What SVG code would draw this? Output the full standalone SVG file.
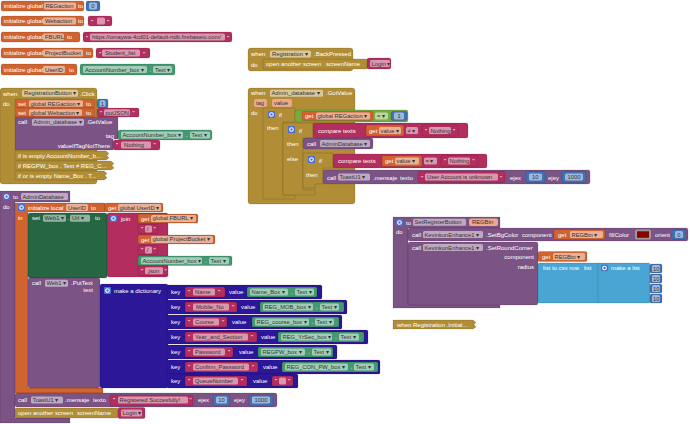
<svg xmlns="http://www.w3.org/2000/svg" width="690" height="424" viewBox="0 0 690 424">
<style>
text{font-family:"Liberation Sans",Arial,sans-serif;font-size:6px}
.l{fill:#fff}
.v{fill:#333;font-size:5.8px}
.e{text-anchor:end}
.f{fill:#fff;fill-opacity:.5}
.pf{fill:#EDA88A}
.var{fill:#D0632F}
.txt{fill:#B32D5E}
.num{fill:#3F71B5}
.cmp{fill:#439970}
.set{fill:#266643}
.prc{fill:#7C5385}
.ctl{fill:#B18E35}
.lgc{fill:#77AB41}
.dct{fill:#2D1799}
.lst{fill:#49A6D4}
.b{stroke:#000;stroke-opacity:.22;stroke-width:.6}
</style>
<defs>
<symbol id="gear" viewBox="0 0 7 7"><rect width="7" height="7" rx="1" fill="#4A6FD4"/><circle cx="3.5" cy="3.5" r="1.8" fill="none" stroke="#fff" stroke-width="1.1"/></symbol>
</defs>
<rect width="690" height="424" fill="#fff"/>

<!-- global initializers -->
<g id="init-REGaction">
<rect class="var b" x="1" y="1" width="83" height="10" rx="2"/>
<text class="l" x="4" y="8.2">initialize global</text>
<rect class="f" x="44" y="2.5" width="32" height="7" rx="1.5"/><text class="v" x="45.5" y="8">REGaction</text>
<text class="l" x="78" y="8.2">to</text>
<rect class="num b" x="86" y="1" width="14" height="10" rx="2"/>
<rect class="f" x="89" y="2.5" width="8" height="7" rx="1.5"/><text class="v" x="91.3" y="8">0</text>
</g>
<g id="init-Webaction">
<rect class="var b" x="1" y="16" width="83" height="10" rx="2"/>
<text class="l" x="4" y="23.2">initialize global</text>
<rect class="f" x="43" y="17.5" width="33" height="7" rx="1.5"/><text class="v" x="45" y="23">Webaction</text>
<text class="l" x="78" y="23.2">to</text>
<rect class="txt b" x="88" y="16" width="24" height="10" rx="2"/>
<text class="l" x="91" y="23.5">"</text>
<rect class="f" x="97" y="17.5" width="8" height="7" rx="1.5"/>
<text class="l" x="107" y="23.5">"</text>
</g>
<g id="init-FBURL">
<rect class="var b" x="1" y="32" width="79" height="10" rx="2"/>
<text class="l" x="4" y="39.2">initialize global</text>
<rect class="f" x="43" y="33.5" width="21" height="7" rx="1.5"/><text class="v" x="45" y="39">FBURL</text>
<text class="l" x="67" y="39.2">to</text>
<rect class="txt b" x="83" y="32" width="149" height="10" rx="2"/>
<text class="l" x="86" y="39.5">"</text>
<rect class="f" x="90" y="33.5" width="135" height="7" rx="1.5"/>
<text class="v" x="92" y="39">https://omaywa-4cd01-default-rtdb.firebaseio.com/</text>
<text class="l" x="227" y="39.5">"</text>
</g>
<g id="init-ProjectBucket">
<rect class="var b" x="1" y="48" width="92" height="10" rx="2"/>
<text class="l" x="4" y="55.2">initialize global</text>
<rect class="f" x="43" y="49.5" width="40" height="7" rx="1.5"/><text class="v" x="45" y="55">ProjectBucket</text>
<text class="l" x="86" y="55.2">to</text>
<rect class="txt b" x="96" y="48" width="54" height="10" rx="2"/>
<text class="l" x="99" y="55.5">"</text>
<rect class="f" x="102" y="49.5" width="38" height="7" rx="1.5"/><text class="v" x="105" y="55">Student_list</text>
<text class="l" x="143" y="55.5">"</text>
</g>
<g id="init-UserID">
<rect class="var b" x="1" y="64" width="76" height="11" rx="2"/>
<text class="l" x="4" y="71.5">initialize global</text>
<rect class="f" x="43" y="66" width="22" height="7" rx="1.5"/><text class="v" x="45" y="71.5">UserID</text>
<text class="l" x="69" y="71.5">to</text>
<rect class="cmp b" x="80" y="64" width="95" height="11" rx="2"/>
<rect class="f" x="83" y="66" width="64" height="7" rx="1.5"/><text class="v" x="85" y="71.5">AccountNumber_box ▾</text>
<text class="l" x="149.5" y="71.5">.</text>
<rect class="f" x="153" y="66" width="19" height="7" rx="1.5"/><text class="v" x="155" y="71.5">Text ▾</text>
</g>

<!-- BackPressed -->
<g id="ev-BackPressed">
<rect class="ctl b" x="248" y="48" width="105" height="23" rx="3"/>
<text class="l" x="251" y="56.3">when</text>
<rect class="f" x="270" y="50.5" width="41" height="7" rx="1.5"/><text class="v" x="272" y="56">Registration ▾</text>
<text class="l" x="314" y="56.3">.BackPressed</text>
<text class="l" x="251" y="66.5">do</text>
<rect class="ctl b" x="263" y="59" width="105" height="10" rx="2"/>
<text class="l" x="266" y="66.2">open another screen</text>
<text class="l" x="326" y="66.2">screenName</text>
<rect class="txt b" x="367" y="58" width="24" height="11" rx="2"/>
<rect class="f" x="370" y="60" width="20" height="7" rx="1.5"/><text class="v" x="371.5" y="65.5">Login ▾</text>
</g>

<!-- RegistrationButton.Click -->
<g id="ev-RegistrationButton-Click">
<rect class="ctl b" x="0" y="88" width="97" height="96" rx="3"/>
<text class="l" x="3" y="95.5">when</text>
<rect class="f" x="22" y="89.7" width="56" height="7" rx="1.5"/><text class="v" x="24" y="95.3">RegistrationButton ▾</text>
<text class="l" x="80" y="95.5">.Click</text>
<text class="l" x="3" y="105.5">do</text>
<rect class="var b" x="15" y="99" width="80" height="9" rx="1.5"/>
<text class="l" x="18" y="105.5">set</text>
<rect class="f" x="29" y="100.2" width="54" height="6.6" rx="1.5"/><text class="v" x="30.5" y="105.5">global REGaction ▾</text>
<text class="l" x="86" y="105.5">to</text>
<rect class="num b" x="97" y="99" width="11" height="9" rx="1.5"/>
<rect class="f" x="99.5" y="100.2" width="6" height="6.6" rx="1.5"/><text class="v" x="100.8" y="105.5">1</text>
<rect class="var b" x="15" y="108" width="80" height="9" rx="1.5"/>
<text class="l" x="18" y="114.5">set</text>
<rect class="f" x="29" y="109.2" width="53" height="6.6" rx="1.5"/><text class="v" x="30.5" y="114.5">global Webaction ▾</text>
<text class="l" x="86" y="114.5">to</text>
<rect class="txt b" x="97" y="108" width="42" height="9" rx="1.5"/>
<text class="l" x="100" y="114.8">"</text>
<rect class="f" x="104" y="109.2" width="26" height="6.6" rx="1.5"/><text class="v" x="105.5" y="114.5">putJSON</text>
<text class="l" x="132.5" y="114.8">"</text>
<path class="prc b" d="M15,117H118V139H113V150H15Z"/>
<text class="l" x="18" y="124.3">call</text>
<rect class="f" x="32" y="118.7" width="52" height="7" rx="1.5"/><text class="v" x="33.5" y="124.2">Admin_database ▾</text>
<text class="l" x="86" y="124.3">.GetValue</text>
<text class="l e" x="114" y="137.5">tag</text>
<text class="l e" x="110" y="147.5">valueIfTagNotThere</text>
<rect class="cmp b" x="118" y="130" width="94" height="10" rx="2"/>
<rect class="f" x="121" y="131.5" width="62" height="7" rx="1.5"/><text class="v" x="122.5" y="137">AccountNumber_box ▾</text>
<text class="l" x="186" y="137.3">.</text>
<rect class="f" x="190" y="131.5" width="20" height="7" rx="1.5"/><text class="v" x="191.5" y="137">Text ▾</text>
<rect class="txt b" x="113" y="140" width="47" height="10" rx="2"/>
<text class="l" x="116" y="147.3">"</text>
<rect class="f" x="121" y="141.5" width="30" height="7" rx="1.5"/><text class="v" x="124" y="147">Nothing</text>
<text class="l" x="153.5" y="147.3">"</text>
<path class="ctl b" d="M15,151H106l3,2.5l-2,2l2,2.5l-3,2H15Z"/>
<text class="l" x="18" y="157.8">if is empty AccountNumber_b...</text>
<path class="ctl b" d="M15,161H111l3,2.5l-2,2l2,2.5l-3,2H15Z"/>
<text class="l" x="18" y="167.8">if REGPW_box . Text ≠ REG_C...</text>
<path class="ctl b" d="M15,171H104l3,2.5l-2,2l2,2.5l-3,2H15Z"/>
<text class="l" x="18" y="177.8">if or is empty Name_Box . T...</text>
</g>

<!-- Admin_database.GotValue -->
<g id="ev-Admin_database-GotValue">
<rect class="ctl b" x="248" y="88" width="107" height="116" rx="3"/>
<text class="l" x="251" y="95.3">when</text>
<rect class="f" x="270" y="89.7" width="53" height="7" rx="1.5"/><text class="v" x="271.5" y="95.2">Admin_database ▾</text>
<text class="l" x="326" y="95.3">.GotValue</text>
<rect class="pf" x="254" y="99" width="13" height="8" rx="2"/><text class="v" x="256" y="105">tag</text>
<rect class="pf" x="272" y="99" width="20" height="8" rx="2"/><text class="v" x="274" y="105">value</text>
<text class="l" x="251" y="115">do</text>
<path class="ctl b" d="M263,108H295V122H283V195H295V199H263Z"/>
<use href="#gear" x="268" y="111" width="7" height="7"/>
<text class="l" x="279" y="117">if</text>
<text class="l" x="267" y="130">then</text>
<path class="ctl b" d="M283,123H313V138H303V190H315V195H283Z"/>
<use href="#gear" x="288" y="126" width="7" height="7"/>
<text class="l" x="299" y="132.5">if</text>
<text class="l" x="287" y="145.5">then</text>
<text class="l" x="287" y="161">else</text>
<rect class="prc b" x="303" y="138" width="70" height="11" rx="2"/>
<text class="l" x="307" y="145.5">call</text>
<rect class="f" x="320" y="140" width="50" height="7" rx="1.5"/><text class="v" x="321.5" y="145.5">AdminDatabase ▾</text>
<path class="ctl b" d="M303,153H333V168H323V184H315V188H303Z"/>
<use href="#gear" x="308" y="156" width="7" height="7"/>
<text class="l" x="319" y="162.5">if</text>
<text class="l" x="306" y="177">then</text>
<rect class="lgc b" x="295" y="110" width="113" height="12" rx="2"/>
<rect class="var b" x="302" y="111.5" width="71" height="9" rx="1.5"/>
<text class="l" x="305" y="118">get</text>
<rect class="f" x="316" y="112.5" width="54" height="7" rx="1.5"/><text class="v" x="317.5" y="118">global REGaction ▾</text>
<rect class="f" x="375" y="112.5" width="13" height="7" rx="1.5"/><text class="v" x="377" y="118">= ▾</text>
<rect class="num b" x="391" y="111.5" width="16" height="9" rx="1.5"/>
<rect class="f" x="394" y="112.5" width="10" height="7" rx="1.5"/><text class="v" x="397.5" y="118">1</text>
<rect class="txt b" x="313" y="123" width="155" height="15" rx="2"/>
<text class="l" x="318" y="132.5">compare texts</text>
<rect class="var b" x="366" y="125" width="38" height="11" rx="1.5"/>
<text class="l" x="369" y="132.5">get</text>
<rect class="f" x="379" y="127" width="22" height="7" rx="1.5"/><text class="v" x="380.5" y="132.5">value ▾</text>
<rect class="f" x="406" y="127" width="12" height="7" rx="1.5"/><text class="v" x="407.5" y="132.5">≠ ▾</text>
<rect class="txt b" x="422" y="125" width="36" height="11" rx="1.5"/>
<text class="l" x="425" y="132.8">"</text>
<rect class="f" x="429" y="127" width="22" height="7" rx="1.5"/><text class="v" x="430.5" y="132.5">Nothing</text>
<text class="l" x="453" y="132.8">"</text>
<rect class="txt b" x="333" y="154" width="154" height="14" rx="2"/>
<text class="l" x="338" y="163">compare texts</text>
<rect class="var b" x="382" y="155.5" width="40" height="11" rx="1.5"/>
<text class="l" x="385" y="163">get</text>
<rect class="f" x="395" y="157.5" width="24" height="7" rx="1.5"/><text class="v" x="396.5" y="163">value ▾</text>
<rect class="f" x="424" y="157.5" width="13" height="7" rx="1.5"/><text class="v" x="425.5" y="163">= ▾</text>
<rect class="txt b" x="441" y="155.5" width="37" height="11" rx="1.5"/>
<text class="l" x="444" y="163.3">"</text>
<rect class="f" x="448" y="157.5" width="22" height="7" rx="1.5"/><text class="v" x="449.5" y="163">Nothing</text>
<text class="l" x="472.5" y="163.3">"</text>
<rect class="prc b" x="323" y="170" width="267" height="14" rx="2"/>
<text class="l" x="327" y="179.5">call</text>
<rect class="f" x="338" y="173.5" width="32" height="7" rx="1.5"/><text class="v" x="339.5" y="179">ToastU1 ▾</text>
<text class="l" x="373" y="179.5">.mensaje</text>
<text class="l" x="400" y="179.5">texto</text>
<rect class="txt b" x="418" y="171.5" width="87" height="11" rx="1.5"/>
<text class="l" x="421" y="179.5">"</text>
<rect class="f" x="425" y="173.5" width="73" height="7" rx="1.5"/><text class="v" x="427" y="179">User Account is unknown</text>
<text class="l" x="500" y="179.5">"</text>
<text class="l" x="510" y="179.5">ejex</text>
<rect class="num b" x="526" y="171.5" width="19" height="11" rx="1.5"/>
<rect class="f" x="529" y="173.5" width="13" height="7" rx="1.5"/><text class="v" x="532" y="179">10</text>
<text class="l" x="548" y="179.5">ejey</text>
<rect class="num b" x="562" y="171.5" width="24" height="11" rx="1.5"/>
<rect class="f" x="565" y="173.5" width="18" height="7" rx="1.5"/><text class="v" x="567.5" y="179">1000</text>
</g>

<!-- procedure AdminDatabase -->
<g id="proc-AdminDatabase">
<path class="prc b" d="M0,191H70V202H15V418H70V423H0Z"/>
<use href="#gear" x="3" y="193" width="7" height="7"/>
<text class="l" x="13" y="198.7">to</text>
<rect class="f" x="21" y="193" width="47" height="7" rx="1.5"/><text class="v" x="22.5" y="198.5">AdminDatabase</text>
<text class="l" x="3" y="209">do</text>
<path class="var b" d="M15,203H105V212H28V388H103V393H15Z"/>
<use href="#gear" x="18" y="204" width="7" height="7"/>
<text class="l" x="28" y="209.7">initialize local</text>
<rect class="f" x="66" y="204" width="22" height="7" rx="1.5"/><text class="v" x="68" y="209.5">UserID</text>
<text class="l" x="91" y="209.7">to</text>
<text class="l" x="18" y="219.5">in</text>
<rect class="var b" x="105" y="203" width="58" height="9" rx="1.5"/>
<text class="l" x="108" y="209.7">get</text>
<rect class="f" x="118" y="204" width="43" height="7" rx="1.5"/><text class="v" x="119.5" y="209.5">global UserID ▾</text>
<rect class="set b" x="28" y="213" width="79" height="65" rx="2"/>
<text class="l" x="32" y="220.3">set</text>
<rect class="f" x="43" y="214.7" width="23" height="7" rx="1.5"/><text class="v" x="44.5" y="220.2">Web1 ▾</text>
<text class="l" x="67.5" y="220.3">.</text>
<rect class="f" x="70" y="214.7" width="20" height="7" rx="1.5"/><text class="v" x="72" y="220.2">Url ▾</text>
<text class="l" x="95" y="220.3">to</text>
<rect class="txt b" x="107" y="213" width="61" height="64" rx="2"/>
<use href="#gear" x="110" y="215" width="7" height="7"/>
<text class="l" x="121" y="220.7">join</text>
<rect class="var b" x="138" y="214" width="60" height="9" rx="1.5"/>
<text class="l" x="141" y="220.5">get</text>
<rect class="f" x="151" y="215" width="45" height="7" rx="1.5"/><text class="v" x="152.5" y="220.4">global FBURL ▾</text>
<rect class="txt b" x="138" y="224.5" width="20" height="9" rx="1.5"/>
<text class="l" x="141" y="231.2">"</text>
<rect class="f" x="145" y="225.5" width="7" height="7" rx="1.5"/><text class="v" x="146.8" y="230.8">/</text>
<text class="l" x="153.5" y="231.2">"</text>
<rect class="var b" x="138" y="235" width="77" height="9" rx="1.5"/>
<text class="l" x="141" y="241.5">get</text>
<rect class="f" x="151" y="236" width="62" height="7" rx="1.5"/><text class="v" x="152.5" y="241.4">global ProjectBucket ▾</text>
<rect class="txt b" x="138" y="245.5" width="20" height="9" rx="1.5"/>
<text class="l" x="141" y="252.2">"</text>
<rect class="f" x="145" y="246.5" width="7" height="7" rx="1.5"/><text class="v" x="146.8" y="251.8">/</text>
<text class="l" x="153.5" y="252.2">"</text>
<rect class="cmp b" x="138" y="256" width="94" height="9.5" rx="1.5"/>
<rect class="f" x="141" y="257.2" width="61" height="7" rx="1.5"/><text class="v" x="142.5" y="262.7">AccountNumber_box ▾</text>
<text class="l" x="205" y="262.8">.</text>
<rect class="f" x="209" y="257.2" width="20" height="7" rx="1.5"/><text class="v" x="210.5" y="262.7">Text ▾</text>
<rect class="txt b" x="138" y="266" width="30" height="9.5" rx="1.5"/>
<text class="l" x="141" y="272.8">"</text>
<rect class="f" x="145" y="267.2" width="18" height="7" rx="1.5"/><text class="v" x="147" y="272.7">.json</text>
<text class="l" x="164.5" y="272.8">"</text>
<rect class="prc b" x="28" y="278" width="72" height="110" rx="2"/>
<text class="l" x="32" y="285.3">call</text>
<rect class="f" x="45" y="279.7" width="23" height="7" rx="1.5"/><text class="v" x="46.5" y="285.2">Web1 ▾</text>
<text class="l" x="71" y="285.3">.PutText</text>
<text class="l e" x="93" y="292">text</text>
<rect class="dct b" x="100" y="284" width="68" height="104" rx="2"/>
<use href="#gear" x="104" y="287" width="7" height="7"/>
<text class="l" x="114" y="292.5">make a dictionary</text>
<!-- pair 1 -->
<rect class="dct b" x="167" y="285" width="155" height="14" rx="1.5"/>
<text class="l" x="171" y="293.7">key</text>
<rect class="txt b" x="185" y="287" width="40" height="10" rx="1.5"/>
<text class="l" x="188" y="294">"</text>
<rect class="f" x="193" y="288.5" width="22" height="7" rx="1.5"/><text class="v" x="195" y="294">Name</text>
<text class="l" x="218" y="294">"</text>
<text class="l" x="229" y="293.7">value</text>
<rect class="cmp b" x="247" y="287" width="70" height="10" rx="1.5"/>
<rect class="f" x="250" y="288.5" width="38" height="7" rx="1.5"/><text class="v" x="251.5" y="294">Name_Box ▾</text>
<text class="l" x="291" y="294">.</text>
<rect class="f" x="295" y="288.5" width="19" height="7" rx="1.5"/><text class="v" x="296.5" y="294">Text ▾</text>
<!-- pair 2 -->
<rect class="dct b" x="167" y="300" width="180" height="14" rx="1.5"/>
<text class="l" x="171" y="308.7">key</text>
<rect class="txt b" x="185" y="302" width="52" height="10" rx="1.5"/>
<text class="l" x="188" y="309">"</text>
<rect class="f" x="193" y="303.5" width="36" height="7" rx="1.5"/><text class="v" x="196" y="309">Mobile_No</text>
<text class="l" x="232" y="309">"</text>
<text class="l" x="241" y="308.7">value</text>
<rect class="cmp b" x="260" y="302" width="84" height="10" rx="1.5"/>
<rect class="f" x="263" y="303.5" width="50" height="7" rx="1.5"/><text class="v" x="264.5" y="309">REG_MOB_box ▾</text>
<text class="l" x="316" y="309">.</text>
<rect class="f" x="320" y="303.5" width="19" height="7" rx="1.5"/><text class="v" x="321.5" y="309">Text ▾</text>
<!-- pair 3 -->
<rect class="dct b" x="167" y="315" width="175" height="14" rx="1.5"/>
<text class="l" x="171" y="323.7">key</text>
<rect class="txt b" x="185" y="317" width="42" height="10" rx="1.5"/>
<text class="l" x="188" y="324">"</text>
<rect class="f" x="193" y="318.5" width="26" height="7" rx="1.5"/><text class="v" x="195" y="324">Course</text>
<text class="l" x="222" y="324">"</text>
<text class="l" x="232" y="323.7">value</text>
<rect class="cmp b" x="252" y="317" width="87" height="10" rx="1.5"/>
<rect class="f" x="255" y="318.5" width="54" height="7" rx="1.5"/><text class="v" x="256.5" y="324">REG_course_box ▾</text>
<text class="l" x="311.5" y="324">.</text>
<rect class="f" x="315" y="318.5" width="19" height="7" rx="1.5"/><text class="v" x="316.5" y="324">Text ▾</text>
<!-- pair 4 -->
<rect class="dct b" x="167" y="330" width="201" height="14" rx="1.5"/>
<text class="l" x="171" y="338.7">key</text>
<rect class="txt b" x="185" y="332" width="72" height="10" rx="1.5"/>
<text class="l" x="188" y="339">"</text>
<rect class="f" x="193" y="333.5" width="55" height="7" rx="1.5"/><text class="v" x="195" y="339">Year_and_Section</text>
<text class="l" x="251" y="339">"</text>
<text class="l" x="261" y="338.7">value</text>
<rect class="cmp b" x="278" y="332" width="86" height="10" rx="1.5"/>
<rect class="f" x="281" y="333.5" width="51" height="7" rx="1.5"/><text class="v" x="282.5" y="339">REG_YrSec_box ▾</text>
<text class="l" x="335" y="339">.</text>
<rect class="f" x="339" y="333.5" width="20" height="7" rx="1.5"/><text class="v" x="340.5" y="339">Text ▾</text>
<!-- pair 5 -->
<rect class="dct b" x="167" y="345" width="170" height="14" rx="1.5"/>
<text class="l" x="171" y="353.7">key</text>
<rect class="txt b" x="185" y="347" width="48" height="10" rx="1.5"/>
<text class="l" x="188" y="354">"</text>
<rect class="f" x="193" y="348.5" width="32" height="7" rx="1.5"/><text class="v" x="195" y="354">Password</text>
<text class="l" x="228" y="354">"</text>
<text class="l" x="239" y="353.7">value</text>
<rect class="cmp b" x="258" y="347" width="75" height="10" rx="1.5"/>
<rect class="f" x="261" y="348.5" width="44" height="7" rx="1.5"/><text class="v" x="262.5" y="354">REGPW_box ▾</text>
<text class="l" x="308" y="354">.</text>
<rect class="f" x="312" y="348.5" width="19" height="7" rx="1.5"/><text class="v" x="313.5" y="354">Text ▾</text>
<!-- pair 6 -->
<rect class="dct b" x="167" y="360" width="213" height="14" rx="1.5"/>
<text class="l" x="171" y="368.7">key</text>
<rect class="txt b" x="185" y="362" width="73" height="10" rx="1.5"/>
<text class="l" x="188" y="369">"</text>
<rect class="f" x="193" y="363.5" width="56" height="7" rx="1.5"/><text class="v" x="195" y="369">Confirm_Password</text>
<text class="l" x="252" y="369">"</text>
<text class="l" x="263" y="368.7">value</text>
<rect class="cmp b" x="282" y="362" width="96" height="10" rx="1.5"/>
<rect class="f" x="285" y="363.5" width="63" height="7" rx="1.5"/><text class="v" x="286.5" y="369">REG_CON_PW_box ▾</text>
<text class="l" x="350.5" y="369">.</text>
<rect class="f" x="354" y="363.5" width="20" height="7" rx="1.5"/><text class="v" x="355.5" y="369">Text ▾</text>
<!-- pair 7 -->
<rect class="dct b" x="167" y="374" width="131" height="14" rx="1.5"/>
<text class="l" x="171" y="382.7">key</text>
<rect class="txt b" x="185" y="376" width="62" height="10" rx="1.5"/>
<text class="l" x="188" y="383">"</text>
<rect class="f" x="193" y="377.5" width="45" height="7" rx="1.5"/><text class="v" x="195" y="383">QueueNumber</text>
<text class="l" x="241" y="383">"</text>
<text class="l" x="253" y="382.7">value</text>
<rect class="txt b" x="272" y="376" width="21" height="10" rx="1.5"/>
<text class="l" x="275" y="383">"</text>
<rect class="f" x="279" y="377.5" width="7" height="7" rx="1.5"/>
<text class="l" x="288" y="383">"</text>
<!-- toast -->
<rect class="prc b" x="15" y="393" width="262" height="14" rx="2"/>
<text class="l" x="18" y="402">call</text>
<rect class="f" x="31" y="396.5" width="32" height="7" rx="1.5"/><text class="v" x="32.5" y="402">ToastU1 ▾</text>
<text class="l" x="65" y="402">.mensaje</text>
<text class="l" x="93" y="402">texto</text>
<rect class="txt b" x="110" y="395" width="83" height="11" rx="1.5"/>
<text class="l" x="113" y="402.3">"</text>
<rect class="f" x="118" y="396.5" width="70" height="7" rx="1.5"/><text class="v" x="119.5" y="402">Registered Succesfully!</text>
<text class="l" x="189.5" y="402.3">"</text>
<text class="l" x="198" y="402">ejex</text>
<rect class="num b" x="213" y="395" width="17" height="11" rx="1.5"/>
<rect class="f" x="216" y="396.5" width="11" height="7" rx="1.5"/><text class="v" x="218.3" y="402">10</text>
<text class="l" x="234" y="402">ejey</text>
<rect class="num b" x="249" y="395" width="24" height="11" rx="1.5"/>
<rect class="f" x="252" y="396.5" width="18" height="7" rx="1.5"/><text class="v" x="254.5" y="402">1000</text>
<rect class="ctl b" x="15" y="408" width="103" height="10" rx="1.5"/>
<text class="l" x="18" y="415">open another screen</text>
<text class="l" x="77" y="415">screenName</text>
<rect class="txt b" x="118" y="407.5" width="27" height="11" rx="1.5"/>
<rect class="f" x="121" y="409.5" width="21" height="7" rx="1.5"/><text class="v" x="122.5" y="415">Login ▾</text>
</g>

<!-- procedure SetRegisterButton -->
<g id="proc-SetRegisterButton">
<path class="prc b" d="M393,217H500V228H408V303H500V308H393Z"/>
<use href="#gear" x="396" y="219" width="7" height="7"/>
<text class="l" x="406" y="224.5">to</text>
<rect class="f" x="413" y="218.7" width="53" height="7" rx="1.5"/><text class="v" x="414.5" y="224.2">SetRegisterButton</text>
<rect class="pf" x="469" y="218.5" width="29" height="7.5" rx="2"/><text class="v" x="472" y="224.3">REGBtn</text>
<text class="l" x="396" y="234">do</text>
<rect class="prc b" x="408" y="228" width="280" height="13" rx="2"/>
<text class="l" x="412" y="236.5">call</text>
<rect class="f" x="423" y="231" width="60" height="7" rx="1.5"/><text class="v" x="424.5" y="236.5">KevinkunEnhance1 ▾</text>
<text class="l" x="486" y="236.5">.SetBgColor</text>
<text class="l" x="522" y="236.5">component</text>
<rect class="var b" x="554" y="229.5" width="51" height="10" rx="1.5"/>
<text class="l" x="558" y="236.5">get</text>
<rect class="f" x="570" y="231" width="33" height="7" rx="1.5"/><text class="v" x="571.5" y="236.5">REGBtn ▾</text>
<text class="l" x="609" y="236.5">fillColor</text>
<rect x="635" y="229.5" width="16" height="10" rx="1.5" fill="#9a9a9a"/>
<rect x="637" y="231.3" width="12" height="6.5" fill="#8B0000"/>
<text class="l" x="655" y="236.5">orient</text>
<rect class="num b" x="672" y="229.5" width="14" height="10" rx="1.5"/>
<rect class="f" x="675" y="231" width="8" height="7" rx="1.5"/><text class="v" x="677.3" y="236.5">0</text>
<rect class="prc b" x="408" y="242" width="130" height="63" rx="2"/>
<text class="l" x="412" y="249.5">call</text>
<rect class="f" x="423" y="244" width="60" height="7" rx="1.5"/><text class="v" x="424.5" y="249.5">KevinkunEnhance1 ▾</text>
<text class="l" x="486" y="249.5">.SetRoundCorner</text>
<text class="l e" x="534" y="258.5">component</text>
<text class="l e" x="534" y="269">radius</text>
<rect class="var b" x="538" y="251.5" width="49" height="10" rx="1.5"/>
<text class="l" x="542" y="258.5">get</text>
<rect class="f" x="553" y="253" width="32" height="7" rx="1.5"/><text class="v" x="554.5" y="258.5">REGBtn ▾</text>
<rect class="lst b" x="538" y="263" width="62" height="40" rx="1.5"/>
<text class="l" x="543" y="269.5">list to csv row</text>
<text class="l" x="584" y="269.5">list</text>
<rect class="lst b" x="598" y="263" width="52" height="40" rx="1.5"/>
<use href="#gear" x="601" y="264.5" width="7" height="7"/>
<text class="l" x="611" y="270">make a list</text>
<rect class="num b" x="650" y="264" width="12" height="9" rx="1.5"/><rect class="f" x="652" y="265" width="8" height="7" rx="1.5"/><text class="v" x="653" y="270.5">10</text>
<rect class="num b" x="650" y="274" width="12" height="9" rx="1.5"/><rect class="f" x="652" y="275" width="8" height="7" rx="1.5"/><text class="v" x="653" y="280.5">10</text>
<rect class="num b" x="650" y="284" width="12" height="9" rx="1.5"/><rect class="f" x="652" y="285" width="8" height="7" rx="1.5"/><text class="v" x="653" y="290.5">10</text>
<rect class="num b" x="650" y="294" width="12" height="9" rx="1.5"/><rect class="f" x="652" y="295" width="8" height="7" rx="1.5"/><text class="v" x="653" y="300.5">10</text>
</g>

<!-- collapsed Initialize -->
<g id="ev-Registration-Initialize">
<path class="ctl b" d="M393,320H473l3,2.5l-2,2l2,2.5l-3,2H393Z"/>
<text class="l" x="397" y="326.8">when  Registration .Initial...</text>
</g>

<g id="connectors"/>
</svg>
